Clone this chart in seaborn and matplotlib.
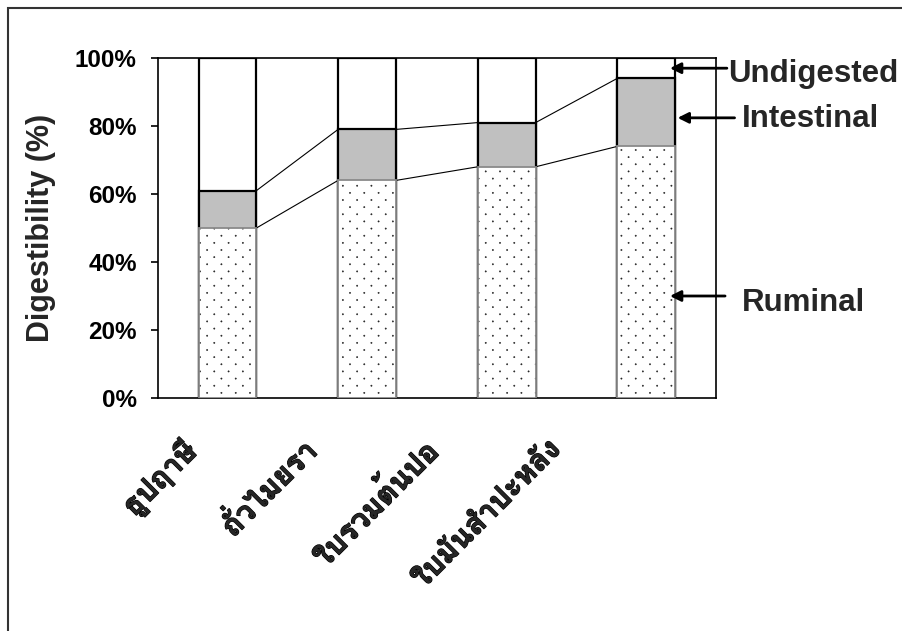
import numpy as np
import pandas as pd
import matplotlib
matplotlib.use("Agg")
import matplotlib.pyplot as plt
import matplotlib.hatch as mhatch
import matplotlib.patheffects as pe
from matplotlib.path import Path
import seaborn as sns
from matplotlib import font_manager as fm
from matplotlib.ft2font import FT2Font
from matplotlib.transforms import ScaledTranslation
from matplotlib.patches import Rectangle

# ---------------- data ----------------
categories = ['ธูปฤาษี', 'ถั่วไมยรา', 'ใบรวมต้นปอ', 'ใบมันสำปะหลัง']
ruminal = [50, 64, 68, 74]
intestinal = [11, 15, 13, 20]
undigested = [39, 21, 19, 6]
y_ticks = [0, 20, 40, 60, 80, 100]
series_names = ['Undigested', 'Intestinal', 'Ruminal']
y_label = 'Digestibility (%)'


# ---------------- sparse dot hatch (Excel-like "5%" pattern) ----------------
class SparseDots(mhatch.HatchPatternBase):
    ROWS, COLS, RADIUS = 14, 7, 0.0065

    def __init__(self, hatch, density):
        self.active = hatch.count('.') > 0
        circ = Path.unit_circle()
        self.shape_vertices = circ.vertices
        self.shape_codes = circ.codes
        if self.active:
            n_shapes = 0
            for r in range(self.ROWS + 1):
                n_shapes += (self.COLS + 1) if r % 2 == 0 else self.COLS
            self.num_vertices = n_shapes * len(self.shape_vertices)
        else:
            self.num_vertices = 0

    def set_vertices_and_codes(self, vertices, codes):
        roff = 1.0 / self.ROWS
        coff = 1.0 / self.COLS
        sv = self.shape_vertices * self.RADIUS
        vparts, cparts = [], []
        for r in range(self.ROWS + 1):
            if r % 2 == 0:
                cols = np.linspace(0, 1, self.COLS + 1)
            else:
                cols = np.linspace(coff / 2, 1 - coff / 2, self.COLS)
            for c in cols:
                vparts.append(sv + [c, r * roff])
                cparts.append(self.shape_codes)
        np.concatenate(vparts, out=vertices)
        np.concatenate(cparts, out=codes)


mhatch._hatch_types = [h for h in mhatch._hatch_types
                       if h is not mhatch.SmallFilledCircles] + [SparseDots]

# ---------------- fonts ----------------
sns.set_theme(style="white")
latin = 'Liberation Sans'


def find_thai_font():
    bold, regular = None, None
    for f in fm.fontManager.ttflist:
        try:
            ft = FT2Font(f.fname)
            if ft.get_char_index(ord('ก')) and ft.get_char_index(ord('ู')):
                w = f.weight
                isbold = (w == 'bold') or (isinstance(w, int) and w >= 600)
                if isbold and bold is None:
                    bold = f.name
                if regular is None:
                    regular = f.name
        except Exception:
            pass
    return bold or regular


thai = find_thai_font()
plt.rcParams['font.family'] = [latin, 'DejaVu Sans']
plt.rcParams['hatch.linewidth'] = 0.35

df = pd.DataFrame({'cat': categories, 'rum': ruminal, 'int': intestinal, 'und': undigested})
df['top_int'] = df['rum'] + df['int']
df['top_all'] = df['top_int'] + df['und']

fig = plt.figure(figsize=(9.03, 6.31), dpi=100)
ax = fig.add_axes([157.7 / 903, 1 - 398 / 631, (716 - 157.7) / 903, (398 - 58) / 631])

W = 0.415
# back-to-front stacking
sns.barplot(data=df, x='cat', y='top_all', color='white', edgecolor='black',
            linewidth=1.6, width=W, saturation=1, ax=ax, zorder=2)
sns.barplot(data=df, x='cat', y='top_int', color='#C0C0C0', edgecolor='black',
            linewidth=1.6, width=W, saturation=1, ax=ax, zorder=3)
sns.barplot(data=df, x='cat', y='rum', color='white', edgecolor='#202020',
            linewidth=0, hatch='.', width=W, saturation=1, ax=ax, zorder=4)
sns.barplot(data=df, x='cat', y='rum', color='#8a8a8a', fill=False,
            linewidth=1.3, width=W, saturation=1, ax=ax, zorder=5)

# series lines between bars
xs = np.arange(len(categories))
for col in ['rum', 'top_int']:
    vals = df[col].to_numpy()
    for i in range(len(xs) - 1):
        ax.plot([xs[i] + W / 2, xs[i + 1] - W / 2], [vals[i], vals[i + 1]],
                color='black', lw=0.8, zorder=1)

ax.set_xlim(-0.5, 3.5)
ax.set_ylim(0, 100)
ax.set_yticks(y_ticks)
ax.set_yticklabels([f'{v}%' for v in y_ticks], fontsize=17.5, fontweight='bold', family=[latin])
ax.tick_params(axis='y', length=5, width=1.2, pad=10, colors='black', left=True, direction='out')
ax.tick_params(axis='x', length=0)
ax.set_xticks(xs)
ax.set_xticklabels([''] * len(xs))
ax.set_xlabel('')
ax.set_ylabel(y_label, fontsize=22, fontweight='bold', labelpad=14, family=[latin])
for s in ax.spines.values():
    s.set_visible(True)
    s.set_color('black')
    s.set_linewidth(1.2)

# rotated category labels
label_dx = [-24, -44, -62, -80]
label_dy = 37
for i, (lab, dx) in enumerate(zip(categories, label_dx)):
    tr = ax.get_xaxis_transform() + ScaledTranslation(dx / 100, -label_dy / 100, fig.dpi_scale_trans)
    fam = [thai, 'DejaVu Sans'] if thai else ['DejaVu Sans']
    ax.text(i, 0, lab, rotation=45, ha='right', va='top', transform=tr,
            fontsize=21.5, fontweight='bold', family=fam, rotation_mode='default',
            path_effects=[pe.withStroke(linewidth=0.9, foreground='black')])

# annotations with arrows
ann = [
    ('Undigested', 3.17, 97.0, 3.578, 3.585, 93.0),
    ('Intestinal', 3.225, 82.4, 3.633, 3.683, 79.6),
    ('Ruminal', 3.17, 30.0, 3.565, 3.683, 25.7),
]
for name, tipx, tipy, tailx, textx, texty in ann:
    ax.annotate('', xy=(tipx, tipy), xytext=(tailx, tipy), xycoords='data',
                arrowprops=dict(arrowstyle='-|>', color='black', lw=2,
                                mutation_scale=16, shrinkA=0, shrinkB=0),
                annotation_clip=False, zorder=10)
    ax.text(textx, texty, name, ha='left', va='baseline', fontsize=22.5,
            fontweight='bold', family=[latin], clip_on=False)

# outer border (partially cropped like the reference)
fig.patches.append(Rectangle((8 / 903, -0.2), 2.0, 1.2 - 7.5 / 631,
                             transform=fig.transFigure, fill=False,
                             edgecolor='#333333', lw=1.5, zorder=0))

fig.savefig('out.png', dpi=100)
